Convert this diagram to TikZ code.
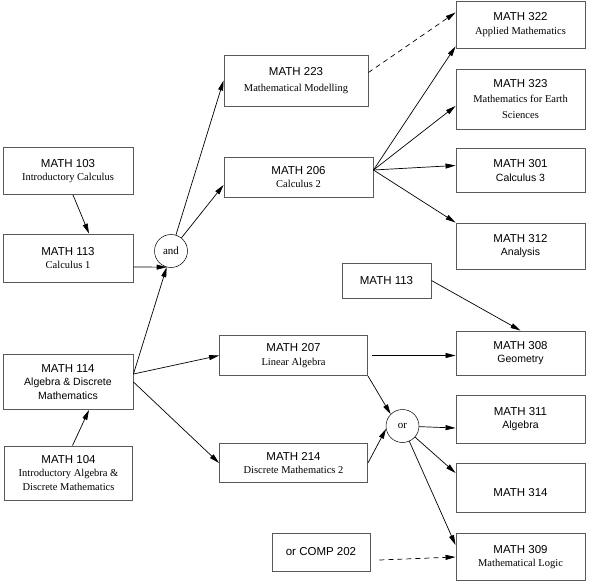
\documentclass[tikz,border=0pt]{standalone}
\usepackage{fontspec}
\setmainfont{Liberation Serif}
\setsansfont{Liberation Sans}
\usetikzlibrary{arrows.meta}
\newcommand{\ctitle}[1]{{\sffamily\fontsize{11.5}{13.5}\selectfont #1}}
\begin{document}
\begin{tikzpicture}[x=1pt, y=-1pt,
  font=\fontsize{10.5}{13.5}\selectfont,
  >={Triangle[length=10pt,width=5pt]},
  box/.style={draw=black!65, line width=0.9pt, align=center, inner sep=0pt},
  gate/.style={circle, draw, line width=0.5pt, inner sep=0pt, minimum size=33pt},
  link/.style={->, line width=0.7pt}]
\useasboundingbox (0,0) rectangle (589,583);
\node[box, minimum width=130pt, minimum height=47pt] (m103) at (68,171) {\ctitle{MATH 103}\\Introductory Calculus};
\node[box, minimum width=130pt, minimum height=48pt] (m113) at (68,258) {\ctitle{MATH 113}\\Calculus 1};
\node[gate] (and) at (171,251) {\fontsize{11}{13}\selectfont and};
\node[box, minimum width=130pt, minimum height=55pt] (m114) at (68,382) {\ctitle{MATH 114}\\\textsf{Algebra \& Discrete}\\\textsf{Mathematics}};
\node[box, minimum width=128pt, minimum height=54pt] (m104) at (68.5,473) {\ctitle{MATH 104}\\Introductory Algebra \&\\Discrete Mathematics};
\node[box, minimum width=144pt, minimum height=51pt] (m223) at (296,80.5) {\ctitle{MATH 223}\\[2pt]Mathematical Modelling};
\node[box, minimum width=149pt, minimum height=40pt] (m206) at (298.5,177) {\ctitle{MATH 206}\\Calculus 2};
\node[box, minimum width=148pt, minimum height=40pt] (m207) at (293.5,355.5) {\ctitle{MATH 207}\\Linear Algebra};
\node[box, minimum width=148pt, minimum height=39pt] (m214) at (293.5,463) {\ctitle{MATH 214}\\Discrete Mathematics 2};
\node[gate] (or) at (402.5,426) {\fontsize{11}{13}\selectfont or};
\node[box, minimum width=89pt, minimum height=35pt] (m113b) at (386.5,280.5) {\ctitle{MATH 113}};
\node[box, minimum width=98pt, minimum height=38pt] (comp) at (321,552) {\ctitle{or COMP 202}};
\node[box, minimum width=129pt, minimum height=47pt] (m322) at (520.5,24.5) {\ctitle{MATH 322}\\Applied Mathematics};
\node[box, minimum width=129pt, minimum height=60pt] (m323) at (520.5,99) {\ctitle{MATH 323}\\[2pt]Mathematics for Earth\\[2pt]Sciences};
\node[box, minimum width=129pt, minimum height=44pt] (m301) at (520.5,170.5) {\ctitle{MATH 301}\\\textsf{Calculus 3}};
\node[box, minimum width=129pt, minimum height=46pt] (m312) at (520.5,246) {\ctitle{MATH 312}\\\textsf{Analysis}};
\node[box, minimum width=129pt, minimum height=44pt] (m308) at (520.5,353) {\ctitle{MATH 308}\\\textsf{Geometry}};
\node[box, minimum width=129pt, minimum height=48pt] (m311) at (520.5,419) {\ctitle{MATH 311}\\\textsf{Algebra}};
\node[box, minimum width=129pt, minimum height=49pt] (m314) at (520.5,488) {\mbox{}\\[4pt]\ctitle{MATH 314}};
\node[box, minimum width=129pt, minimum height=47pt] (m309) at (520.5,557) {\ctitle{MATH 309}\\Mathematical Logic};
\coordinate (s206) at ([yshift=7pt]m206.east);
% first year
\draw[link] ([xshift=5pt]m103.south) -- ([xshift=21pt]m113.north);
\draw[link] ([xshift=4pt]m104.north) -- ([xshift=21pt]m114.south);
\draw[link] ([yshift=-9pt]m113.east) -- (and.255);
\draw[link] ([yshift=8pt]m114.east) -- (and.255);
\draw[link] ([yshift=8pt]m114.east) -- (m207.west);
\draw[link] (m114.east) -- (m214.west);
% second year
\draw[link] (and) -- (m223.west);
\draw[link] (and) -- ([yshift=-8pt]m206.west);
\draw[link, dashed, dash pattern=on 5pt off 4pt] ([yshift=8pt]m223.east) -- ([yshift=12pt]m322.west);
\draw[link] (s206) -- ([yshift=2pt]m322.south west);
\draw[link] (s206) -- ([yshift=-7pt]m323.west);
\draw[link] (s206) -- ([yshift=5pt]m301.west);
\draw[link] (s206) -- (m312.north west);
\draw[link] (m113b.east) -- (m308.north);
\draw[link] ([xshift=4pt]m207.east) -- (m308.west |- m207.east);
\draw[link] (m207.south east) -- (or.north west);
\draw[link] (m214.east) -- (or.190);
% third year
\draw[link] (or) -- ([yshift=-9pt]m311.west);
\draw[link] (or) -- ([yshift=15pt]m314.west);
\draw[link] (or) -- ([yshift=-12pt]m309.north west);
\draw[link, dashed, dash pattern=on 5pt off 4pt] ([xshift=9pt,yshift=-8pt]comp.east) -- (m309.west);
\end{tikzpicture}
\end{document}
